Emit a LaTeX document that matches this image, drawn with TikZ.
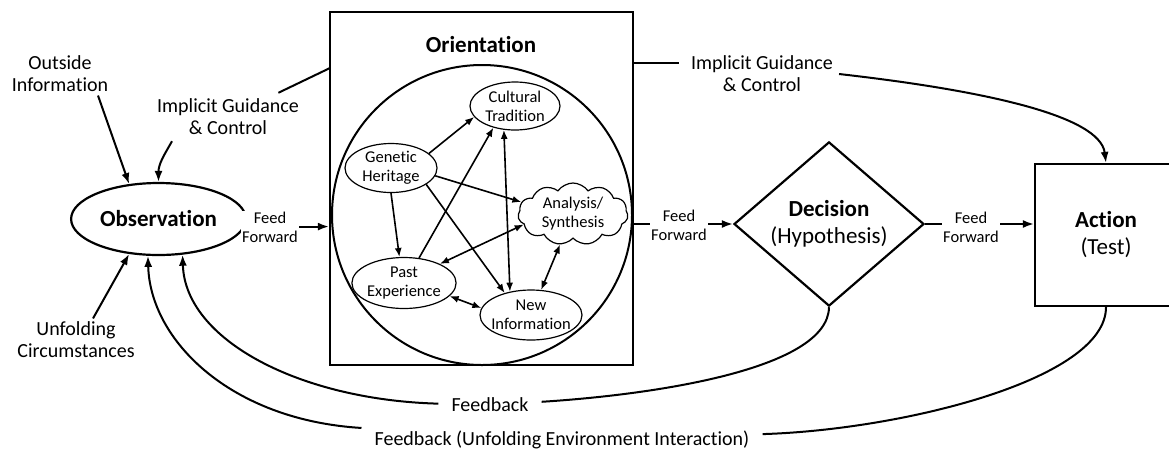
\documentclass[tikz,border=0pt]{standalone}
\usepackage{fontspec}
\setmainfont{Carlito}[Ligatures=CommonOff]
\usetikzlibrary{shapes.geometric}
\usetikzlibrary{shapes.symbols}
\usetikzlibrary{arrows.meta}

\begin{document}
\begin{tikzpicture}[x=1pt, y=1pt,
    lbl/.style  = {font=\fontsize{20}{22}\selectfont, align=center},
    sml/.style  = {font=\fontsize{16.5}{19}\selectfont, align=center},
    big/.style  = {font=\fontsize{23}{27}\selectfont, align=center},
    bigb/.style = {font=\fontsize{23}{27}\selectfont\bfseries, align=center},
    iell/.style = {ellipse, draw, line width=1.2pt, sml, inner sep=0pt},
    gap/.style  = {inner xsep=13pt},
    ff/.style   = {sml, fill=white, inner sep=1pt},
    thk/.style  = {line width=2pt},
    arr/.style  = {line width=2pt, -{Latex[length=11pt,width=8pt]}},
    iarr/.style = {line width=1.6pt, -{Latex[length=9pt,width=7pt]}},
    iarrb/.style = {line width=1.6pt, {Latex[length=9pt,width=7pt]}-{Latex[length=9pt,width=7pt]}}
    ]
    \useasboundingbox (0,0) rectangle (1169,-451);

    % main blocks
    \node[draw, ellipse, line width=2.2pt, minimum width=143pt, minimum height=72pt, bigb] at (158.5,-219) (obs) {Observation};
    \node[draw, line width=2.2pt, minimum width=303pt, minimum height=353pt] at (481.5,-188.5) (orient) {};
    \node[bigb] at (481,-45) (otitle) {Orientation};
    \node[draw, circle, line width=2pt, minimum size=300pt] at (482,-215) (ocirc) {};
    \node[draw, diamond, line width=2.2pt, minimum width=190pt, minimum height=162pt, inner sep=0pt, big] at (829,-224) (dec) {\textbf{Decision}\\(Hypothesis)};
    \node[draw, line width=2.2pt, minimum width=142pt, minimum height=142pt, big] at (1106,-235) (act) {\textbf{Action}\\(Test)};

    % inside orientation
    \node[iell, minimum width=90pt, minimum height=48pt] at (515,-106) (cult) {Cultural\\Tradition};
    \node[iell, minimum width=92pt, minimum height=49pt] at (391,-168) (gen) {Genetic\\Heritage};
    \node[cloud, draw, line width=1.2pt, sml, cloud puffs=11, cloud puff arc=110, aspect=1.8, inner sep=0pt,
          minimum width=110pt, minimum height=62pt] at (573,-214) (anl) {Analysis/\\Synthesis};
    \node[iell, minimum width=102pt, minimum height=51pt] at (404,-283) (past) {Past\\Experience};
    \node[iell, minimum width=102pt, minimum height=50pt, inner xsep=-4pt] at (531,-315) (newi) {New\\Information};

    % labels
    \node[lbl] at (60,-74) (outside) {Outside\\Information};
    \node[lbl, inner sep=6pt] at (228,-117) (igL) {Implicit Guidance\\\& Control};
    \node[lbl] at (76,-340) (unfold) {Unfolding\\Circumstances};
    \node[lbl, inner sep=6pt] at (762,-74) (igR) {Implicit Guidance\\\& Control};
    \node[lbl, gap] at (490,-405) (fb1) {Feedback};
    \node[lbl, gap] at (562,-440) (fb2) {Feedback (Unfolding Environment Interaction)};

    \coordinate (igLa) at (330,-68);
    \coordinate (igRa) at (633,-63);

    % outer connectors
    \draw[arr] ([xshift=38pt]outside.south) -- (obs.130);
    \draw[arr] ([xshift=17pt]unfold.north) -- (obs.-130);
    \draw[thk] (igLa) -- (igL);
    \draw[arr] ([xshift=-56pt]igL.south) .. controls +(-8,-14) and +(0,18) .. (obs.north);
    \draw[thk, shorten >=6pt] (igRa) -- (igRa -| igR.west);
    \draw[arr] (igR.east) .. controls (980,-90) and (1100,-115) .. (act.north);
    \draw[arr] (obs.-5) -- (obs.-5 -| orient.west);
    \draw[arr] (dec.west -| orient.east) -- (dec.west);
    \draw[arr] (dec.east) -- (dec.east -| act.west);
    \draw[arr] (dec.south) .. controls (828,-370) and (650,-395) .. (fb1)
                           .. controls (300,-400) and (185,-340) .. (obs.-56);
    \draw[arr] (act.south) .. controls (1106,-380) and (900,-430) .. (fb2)
                           .. controls (230,-420) and (150,-340) .. (obs.-106);

    % inner connectors
    \draw[iarr] (gen.21) -- (cult.195);
    \draw[iarr] (past.59) -- (cult.-135);
    \draw[iarrb] (cult.-115) -- (newi.132);
    \draw[iarr] (gen.-10) -- (anl.167);
    \draw[iarr] (gen.south) -- (past.100);
    \draw[iarr] (gen.-25) -- (newi.140);
    \draw[iarrb] (past.28) -- (anl.192);
    \draw[iarrb] (past.-16) -- (newi.172);
    \draw[iarrb] (anl.-113) -- (newi.68);

    % feed forward texts over the lines
    \node[ff] at (270,-227) (ff1) {Feed\\Forward};
    \node[ff] at (679,-225) (ff2) {Feed\\Forward};
    \node[ff] at (971,-227) (ff3) {Feed\\Forward};
\end{tikzpicture}
\end{document}
